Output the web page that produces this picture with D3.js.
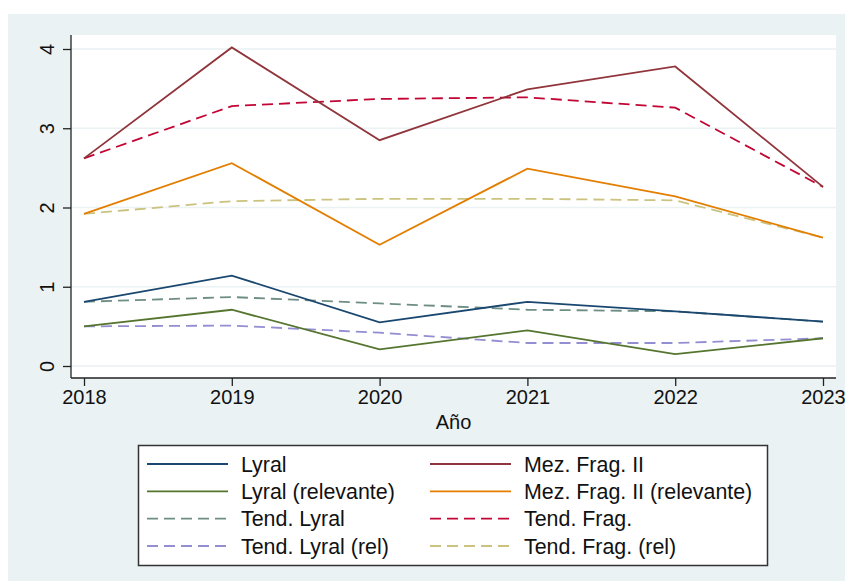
<!DOCTYPE html>
<html><head><meta charset="utf-8">
<script src="https://cdn.jsdelivr.net/npm/d3@7"></script>
<style>body{margin:0;background:#fff}svg{display:block;font-family:"Liberation Sans",Arial,Helvetica,sans-serif}</style>
</head><body>
<script>
const years = [2018, 2019, 2020, 2021, 2022, 2023];
const lyral = [0.81, 1.14, 0.55, 0.81, 0.69, 0.56];
const lyralRel = [0.50, 0.71, 0.21, 0.45, 0.15, 0.35];
const tendLyral = [0.81, 0.87, 0.79, 0.71, 0.69, 0.56];
const tendLyralRel = [0.50, 0.51, 0.42, 0.29, 0.29, 0.35];
const mezFrag = [2.62, 4.02, 2.85, 3.49, 3.78, 2.26];
const mezFragRel = [1.92, 2.56, 1.53, 2.49, 2.14, 1.62];
const tendFrag = [2.62, 3.28, 3.37, 3.39, 3.26, 2.26];
const tendFragRel = [1.92, 2.08, 2.11, 2.11, 2.09, 1.62];
const yTicks = [0, 1, 2, 3, 4];
const xLabel = "Año";

const series = [
  {name:"Lyral", values:lyral, color:"#1a476f", dash:null},
  {name:"Mez. Frag. II", values:mezFrag, color:"#90353b", dash:null},
  {name:"Lyral (relevante)", values:lyralRel, color:"#55752f", dash:null},
  {name:"Mez. Frag. II (relevante)", values:mezFragRel, color:"#e37e00", dash:null},
  {name:"Tend. Lyral", values:tendLyral, color:"#6e8e84", dash:"11,6"},
  {name:"Tend. Frag.", values:tendFrag, color:"#c10534", dash:"11,6"},
  {name:"Tend. Lyral (rel)", values:tendLyralRel, color:"#938dd2", dash:"11,6"},
  {name:"Tend. Frag. (rel)", values:tendFragRel, color:"#cac27e", dash:"11,6"}
];

const W = 845, H = 588;
const svg = d3.select("body").append("svg").attr("width", W).attr("height", H);
svg.append("rect").attr("x",8).attr("y",14).attr("width",837).attr("height",567).attr("fill","#eaf2f3");

const plot = {l:71, r:836, t:35, b:378};
svg.append("rect").attr("x",plot.l).attr("y",plot.t).attr("width",plot.r-plot.l).attr("height",plot.b-plot.t).attr("fill","#fff");

const x = d3.scaleLinear().domain([2018, 2023]).range([84, 823]);
const y = d3.scaleLinear().domain([0, 4]).range([366, 49]);

// grid
svg.append("g").selectAll("line").data(yTicks).join("line")
  .attr("x1",plot.l).attr("x2",plot.r).attr("y1",d=>y(d)).attr("y2",d=>y(d))
  .attr("stroke","#eaf2f3").attr("stroke-width",1.5);

// lines
const line = d3.line().x((d,i)=>x(years[i])).y(d=>y(d));
const drawOrder = [4,6,5,7,0,2,1,3];
drawOrder.forEach(i=>{
  const s = series[i];
  svg.append("path").datum(s.values).attr("d",line).attr("fill","none")
    .attr("stroke",s.color).attr("stroke-width",1.8)
    .attr("stroke-dasharray",s.dash);
});

// y axis
const yAxis = svg.append("g").attr("transform",`translate(${plot.l},0)`)
  .call(d3.axisLeft(y).tickValues(yTicks).tickSize(8).tickPadding(0).tickFormat(d3.format("d")));
yAxis.select(".domain").attr("d",`M0,${plot.t}V${plot.b}`).attr("stroke","#222").attr("stroke-width",1.3);
yAxis.selectAll(".tick line").attr("stroke","#222").attr("stroke-width",1.3);
yAxis.selectAll(".tick text").attr("font-size",20).attr("fill","#111")
  .attr("x",null).attr("dy",null).attr("text-anchor","middle")
  .attr("transform","translate(-17,0) rotate(-90)");

// x axis
const xAxis = svg.append("g").attr("transform",`translate(0,${plot.b})`)
  .call(d3.axisBottom(x).tickValues(years).tickSize(8).tickPadding(4).tickFormat(d3.format("d")));
xAxis.select(".domain").attr("d",`M${plot.l},0H${plot.r}`).attr("stroke","#222").attr("stroke-width",1.3);
xAxis.selectAll(".tick line").attr("stroke","#222").attr("stroke-width",1.3);
xAxis.selectAll(".tick text").attr("font-size",20).attr("fill","#111");

svg.append("text").attr("x",(plot.l+plot.r)/2).attr("y",429).attr("text-anchor","middle")
  .attr("font-size",20).attr("fill","#111").text(xLabel);

// legend
svg.append("rect").attr("x",138.5).attr("y",445.5).attr("width",629).attr("height",120)
  .attr("fill","#fff").attr("stroke","#333").attr("stroke-width",1.5);
const rowY = [464, 491.3, 518.7, 546];
const colX = [147, 430];
series.forEach((s,i)=>{
  const c = i%2, r = Math.floor(i/2);
  const lx = colX[c], ly = rowY[r];
  svg.append("line").attr("x1",lx).attr("x2",lx+81).attr("y1",ly).attr("y2",ly)
    .attr("stroke",s.color).attr("stroke-width",1.8).attr("stroke-dasharray",s.dash);
  svg.append("text").attr("x",lx+94).attr("y",ly+7.5).attr("font-size",21.4).attr("fill","#111").text(s.name);
});
</script>
</body></html>
